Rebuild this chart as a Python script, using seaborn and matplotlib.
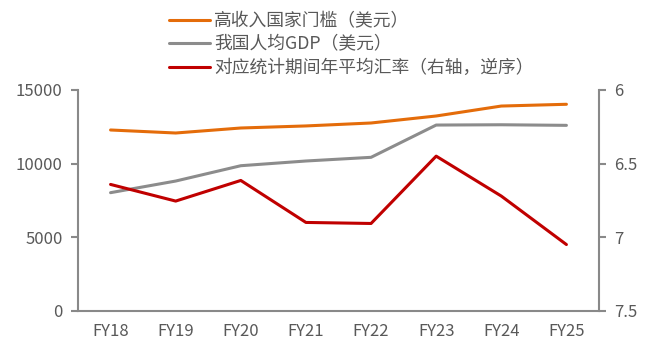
import numpy as np
import pandas as pd
import matplotlib
matplotlib.use("Agg")
import matplotlib.pyplot as plt
import seaborn as sns

# 数据
years = ["FY18", "FY19", "FY20", "FY21", "FY22", "FY23", "FY24", "FY25"]
high_income = [12285, 12080, 12420, 12560, 12760, 13235, 13910, 14030]
gdp_per_capita = [8030, 8820, 9860, 10180, 10430, 12620, 12640, 12600]
fx_rate = [6.641, 6.754, 6.614, 6.899, 6.906, 6.449, 6.720, 7.049]

labels = ["高收入国家门槛（美元）", "我国人均GDP（美元）", "对应统计期间年平均汇率（右轴，逆序）"]
colors = ["#E46C0A", "#8C8C8C", "#C00000"]

sns.set_style("white")
plt.rcParams["font.family"] = ["Noto Sans CJK SC", "DejaVu Sans"]
text_color = "#595959"
axis_color = "#898989"

df = pd.DataFrame({"year": years, "high": high_income, "gdp": gdp_per_capita, "fx": fx_rate})
df["pos"] = np.arange(len(years))

fig = plt.figure(figsize=(6.5, 3.54), dpi=100)
ax = fig.add_axes([0.12, 0.1215, 0.8015, 0.6243])
ax2 = ax.twinx()

sns.lineplot(data=df, x="pos", y="high", ax=ax, color=colors[0], lw=2.2, label=labels[0], legend=False)
sns.lineplot(data=df, x="pos", y="gdp", ax=ax, color=colors[1], lw=2.2, label=labels[1], legend=False)
sns.lineplot(data=df, x="pos", y="fx", ax=ax2, color=colors[2], lw=2.2, label=labels[2], legend=False)

ax.set_xlim(-0.5, len(years) - 0.5)
ax.set_ylim(0, 15000)
ax.set_yticks([0, 5000, 10000, 15000])
ax2.set_ylim(7.5, 6)
ax2.set_yticks([6, 6.5, 7, 7.5])
ax2.set_yticklabels(["6", "6.5", "7", "7.5"])

# 类别标签居中，刻度线在类别之间
ax.set_xticks(df["pos"])
ax.set_xticklabels(years)
ax.set_xticks(np.arange(-0.5, len(years)), minor=True)
ax.tick_params(axis="x", which="major", length=0, pad=9, labelsize=12, colors=text_color)
ax.tick_params(axis="x", which="minor", length=4, width=1.5, color=axis_color, direction="out")
ax.tick_params(axis="y", length=5, width=1.5, color=axis_color, labelsize=12, labelcolor=text_color, pad=6)
ax2.tick_params(axis="y", length=5, width=1.5, color=axis_color, labelsize=12, labelcolor=text_color, pad=6)
ax.set_xlabel("")
ax.set_ylabel("")
ax2.set_ylabel("")

for a in (ax, ax2):
    a.spines["top"].set_visible(False)
    for side in ["left", "right", "bottom"]:
        a.spines[side].set_color(axis_color)
        a.spines[side].set_linewidth(1.5)
ax.spines["right"].set_visible(False)
ax2.spines["left"].set_visible(False)
ax2.spines["bottom"].set_visible(False)

handles = ax.get_lines()[:2] + ax2.get_lines()[:1]
fig.legend(handles, labels, loc="upper left", bbox_to_anchor=(0.243, 0.996), frameon=False,
           fontsize=12.8, labelcolor=text_color, handlelength=2.3, handletextpad=0.25,
           labelspacing=0.3, borderaxespad=0.2)

fig.savefig("out.png", dpi=100)
